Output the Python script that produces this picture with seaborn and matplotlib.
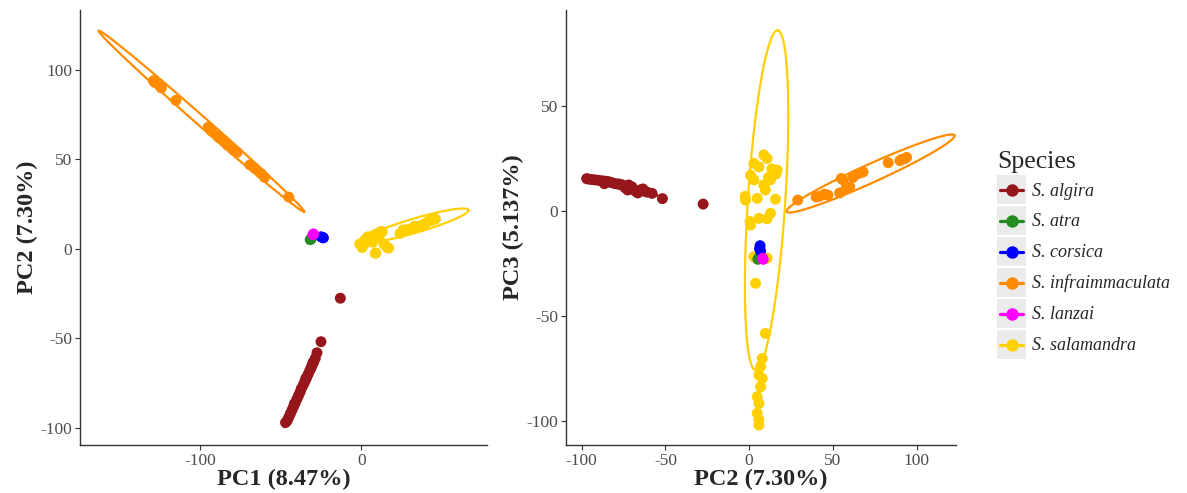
import numpy as np
import pandas as pd
import matplotlib
matplotlib.use("Agg")
import matplotlib.pyplot as plt
import seaborn as sns
from matplotlib.legend_handler import HandlerBase
from matplotlib.patches import Rectangle
from matplotlib.lines import Line2D

# ---------------- data ----------------
species = ["S. algira", "S. atra", "S. corsica", "S. infraimmaculata", "S. lanzai", "S. salamandra"]
colors = ["#96161B", "#228B22", "#0000FF", "#FF8C00", "#FF00FF", "#FFD000"]

algira_pc1 = [-13, -25, -27.5, -28.5, -29.5, -30.5, -31.2, -32, -33, -34, -35, -36, -37.2, -38, -39,
              -40, -41, -42, -43, -44, -45, -46, -47, -30, -34.5, -41.5]
algira_pc2 = [-27.5, -51.8, -58, -61, -63, -65, -66.5, -68, -70, -72, -74, -76, -78, -80, -82,
              -84, -86, -88, -90, -92, -94, -96, -97, -63.5, -72.5, -86.5]
algira_pc3 = [3.3, 5.9, 8.4, 9.0, 9.5, 10.0, 8.6, 9.5, 11.5, 12.4, 11.0, 12.5, 12.9, 13.0, 13.5,
              14.0, 14.2, 14.4, 14.6, 14.8, 15.0, 15.2, 15.4, 10.5, 10.0, 13.0]

atra_pc1 = [-31.7, -31.2]
atra_pc2 = [5.2, 5.6]
atra_pc3 = [-23.0, -22.5]

corsica_pc1 = [-24.0, -25.0, -23.5]
corsica_pc2 = [6.5, 6.8, 6.2]
corsica_pc3 = [-16.5, -19.0, -18.0]

infra_pc1 = [-129, -128, -125, -124, -115, -95, -93, -89, -88, -85, -83, -80, -79, -77, -69, -66, -62, -60, -45]
infra_pc2 = [94, 93, 91, 90, 83, 68, 66, 63, 62, 60, 58, 56, 55, 54, 47, 45, 42, 40, 29]
infra_pc3 = [25.5, 25, 24.5, 24, 23, 18.6, 18, 17, 16, 11.5, 11, 14.8, 15.5, 8.6, 7.6, 8, 7, 6.7, 5.2]

lanzai_pc1 = [-29.6, -30.0]
lanzai_pc2 = [8.4, 8.0]
lanzai_pc3 = [-23.0, -22.5]

salam_pc1 = [24, 29, 2, 4, 46, 44, 0.5, -1, 10, 36, 13, 5, 9, 42, 33, 26, 3, 16, 14, 28, 7, 12,
             8, 11, 6, 9, 4, 2, 7, 3, 5, 8, 38, 40, 32, 17, 8.7]
salam_pc2 = [8.7, 10.7, 2.8, 5.8, 16.7, 16, 0.8, 2.8, 8.7, 12.7, 9.7, 4.8, -2.2, 15.7, 12.7, 10.7, 5.8,
             0.8, 2.8, 10.7, 3.8, 9.7, 7.8, 6.8, 5.8, 7.8, 6.8, 4.8, 5.8, 4.8, 5.8, 5.8, 13.5, 14.4,
             11.6, 0.5, -2.4]
salam_pc3 = [26.7, 25, 22.7, 21, 19.5, 17.6, 17, 14.8, 12.4, 14.8, 10, 6, 5.2, 5.6, -1.1, -3.7, -3.5,
             -6.7, -21.8, -22.4, -34.4, -58.3, -70.2, -74, -78.1, -79.7, -83.7, -88.4, -91.6, -96.3,
             -99.5, -101.9, 20, 18, 16, -5, 7]

# confidence ellipses: major-axis tips (x1, y1, x2, y2) and minor/major ratio
ell12_species = ["S. infraimmaculata", "S. salamandra", "S. algira"]
ell12_tips = [(-163, 122, -35.4, 20.8), (1.0, 4.5, 66.5, 21.8), (-47.8, -99.5, -27, -56)]
ell12_ratio = [0.035, 0.13, 0.04]

ell23_species = ["S. infraimmaculata", "S. salamandra", "S. algira"]
ell23_tips = [(22.3, -0.3, 122.6, 36.0), (3.8, -75.7, 17.0, 86.0), (-99.5, 15.8, -55, 7.5)]
ell23_ratio = [0.10, 0.11, 0.06]

# ---------------- build table ----------------
rows = []
for sp, a, b, c in [("S. algira", algira_pc1, algira_pc2, algira_pc3),
                    ("S. atra", atra_pc1, atra_pc2, atra_pc3),
                    ("S. corsica", corsica_pc1, corsica_pc2, corsica_pc3),
                    ("S. infraimmaculata", infra_pc1, infra_pc2, infra_pc3),
                    ("S. lanzai", lanzai_pc1, lanzai_pc2, lanzai_pc3),
                    ("S. salamandra", salam_pc1, salam_pc2, salam_pc3)]:
    for x, y, z in zip(a, b, c):
        rows.append({"Species": sp, "PC1": x, "PC2": y, "PC3": z})
df = pd.DataFrame(rows)
draw_order = ["S. salamandra", "S. infraimmaculata", "S. algira", "S. atra", "S. corsica", "S. lanzai"]
df["ord"] = df["Species"].map({s: i for i, s in enumerate(draw_order)})
df = df.sort_values("ord", kind="stable")
palette = dict(zip(species, colors))

# ---------------- style ----------------
sns.set_style("white")
plt.rcParams["font.family"] = ["Liberation Serif", "DejaVu Serif"]
plt.rcParams["axes.unicode_minus"] = False

fig = plt.figure(figsize=(11.87, 4.93), dpi=100)
ax1 = fig.add_axes([0.0674, 0.0974, 0.3429, 0.8823])
ax2 = fig.add_axes([0.4768, 0.0974, 0.3286, 0.8823])

LABEL_FS = 17.5

def style_axes(ax, xlim, ylim, xt, yt):
    ax.set_xlim(*xlim)
    ax.set_ylim(*ylim)
    ax.set_xticks(xt)
    ax.set_yticks(yt)
    for s in ["top", "right"]:
        ax.spines[s].set_visible(False)
    for s in ["left", "bottom"]:
        ax.spines[s].set_color("#333333")
        ax.spines[s].set_linewidth(1.0)
    ax.tick_params(axis="both", direction="out", length=3.5, width=0.8, color="#333333",
                   labelcolor="#4D4D4D", labelsize=12.5, left=True, bottom=True, pad=2)
    ax.grid(False)

def draw_ellipse(ax, tips, ratio, color):
    T = ax.transData
    p1 = np.array(T.transform((tips[0], tips[1])))
    p2 = np.array(T.transform((tips[2], tips[3])))
    c = (p1 + p2) / 2
    u = (p2 - p1) / 2
    v = np.array([-u[1], u[0]]) * ratio
    t = np.linspace(0, 2 * np.pi, 300)
    pts = c + np.outer(np.cos(t), u) + np.outer(np.sin(t), v)
    d = T.inverted().transform(pts)
    ax.plot(d[:, 0], d[:, 1], color=color, lw=1.6, zorder=3)

style_axes(ax1, (-174.5, 78), (-109.5, 133.5), [-100, 0], [-100, -50, 0, 50, 100])
style_axes(ax2, (-109.4, 123.5), (-111.4, 95.7), [-100, -50, 0, 50, 100], [-100, -50, 0, 50])

sns.scatterplot(data=df, x="PC1", y="PC2", hue="Species", palette=palette, s=62,
                linewidth=0, legend=False, ax=ax1, zorder=2)
sns.scatterplot(data=df, x="PC2", y="PC3", hue="Species", palette=palette, s=62,
                linewidth=0, legend=False, ax=ax2, zorder=2)
ax1.set_xlabel("PC1 (8.47%)", fontsize=LABEL_FS, fontweight="bold", labelpad=0)
ax1.set_ylabel("PC2 (7.30%)", fontsize=LABEL_FS, fontweight="bold", labelpad=2)
ax2.set_xlabel("PC2 (7.30%)", fontsize=LABEL_FS, fontweight="bold", labelpad=0)
ax2.set_ylabel("PC3 (5.137%)", fontsize=LABEL_FS, fontweight="bold", labelpad=2)

for sp, tips, r in zip(ell12_species, ell12_tips, ell12_ratio):
    draw_ellipse(ax1, tips, r, palette[sp])
for sp, tips, r in zip(ell23_species, ell23_tips, ell23_ratio):
    draw_ellipse(ax2, tips, r, palette[sp])

# ---------------- legend with grey key boxes ----------------
class KeyHandler(HandlerBase):
    def create_artists(self, legend, orig_handle, xdescent, ydescent, width, height, fontsize, trans):
        col = orig_handle.get_color()
        rect = Rectangle((-xdescent, -ydescent), width, height,
                         facecolor="#EBEBEB", edgecolor="none", transform=trans)
        cy = -ydescent + height / 2
        line = Line2D([-xdescent + 0.1 * width, -xdescent + 0.9 * width], [cy, cy],
                      color=col, lw=2.3, transform=trans)
        dot = Line2D([-xdescent + width / 2], [cy], marker="o", markersize=9,
                     color=col, markeredgewidth=0, linestyle="none", transform=trans)
        return [rect, line, dot]

LEG_FS = 13
handles = [Line2D([], [], color=c) for c in colors]
leg = fig.legend(handles, species, title="Species", loc="upper left",
                 bbox_to_anchor=(0.840, 0.693), frameon=False,
                 handler_map={Line2D: KeyHandler()},
                 prop={"family": ["Liberation Serif"], "style": "italic", "size": LEG_FS},
                 handlelength=1.62, handleheight=2.09, labelspacing=0.11,
                 handletextpad=0.3, borderaxespad=0, borderpad=0)
leg.get_title().set_fontsize(18.5)
leg.get_title().set_family(["Liberation Serif"])
leg._legend_box.align = "left"

fig.savefig("out.png", dpi=100)
